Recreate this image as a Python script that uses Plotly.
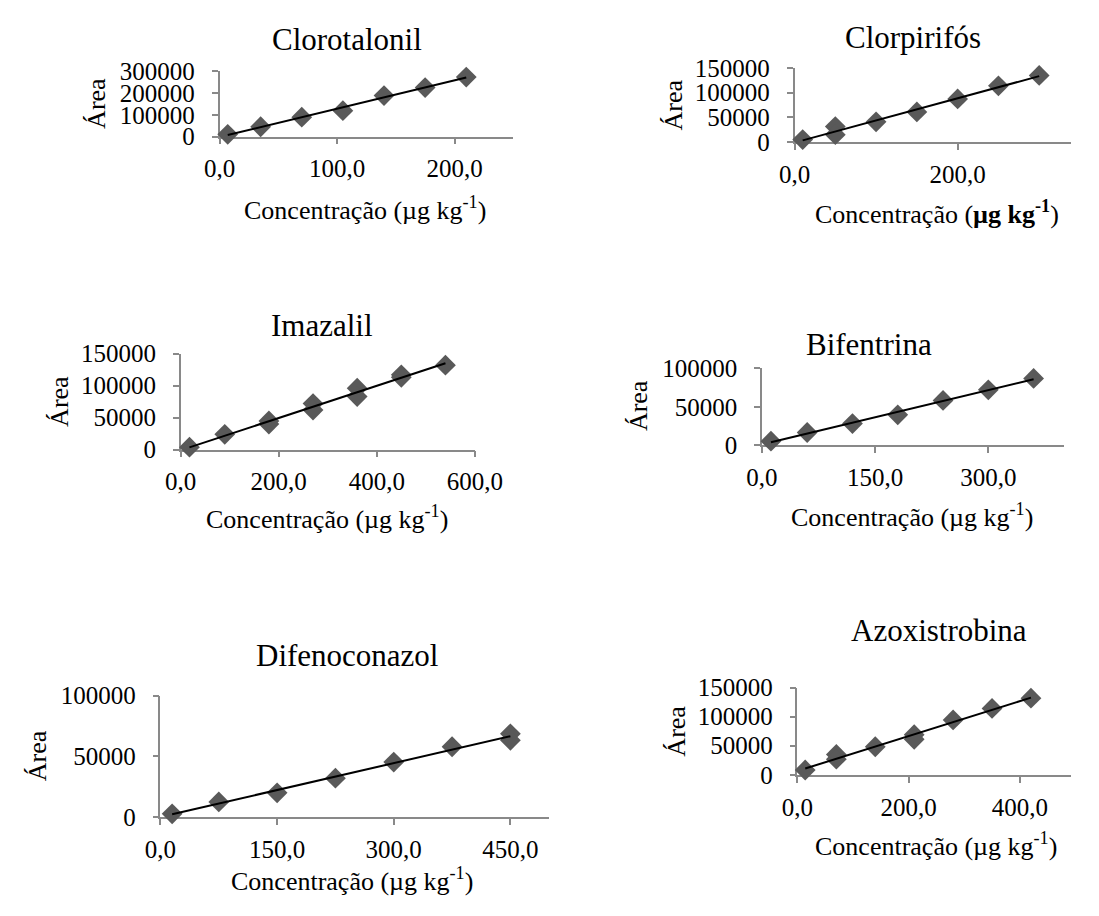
import numpy as np
import plotly.graph_objects as go

W, H = 1099, 916

# ---------------- data ----------------
names = ["Clorotalonil", "Clorpirifós", "Imazalil", "Bifentrina", "Difenoconazol", "Azoxistrobina"]

clorotalonil_x = [7, 35, 70, 105, 140, 175, 210]
clorotalonil_y = [10000, 45000, 89000, 119000, 188000, 225000, 273000]

clorpirifos_x = [10, 50, 50, 100, 150, 200, 250, 300]
clorpirifos_y = [5000, 31500, 15000, 41000, 61000, 87500, 114000, 135000]

imazalil_x = [18, 90, 180, 180, 270, 270, 360, 360, 450, 450, 540]
imazalil_y = [4000, 24000, 45000, 40000, 72000, 62000, 96000, 83000, 117000, 113000, 132000]

bifentrina_x = [12, 60, 120, 180, 240, 300, 360]
bifentrina_y = [5400, 16700, 28300, 39600, 58300, 72000, 86700]

difenoconazol_x = [15, 75, 150, 225, 300, 375, 450, 450]
difenoconazol_y = [2700, 12500, 20000, 32000, 45300, 57900, 68500, 63200]

azoxistrobina_x = [14, 70, 70, 140, 210, 210, 280, 350, 420]
azoxistrobina_y = [8300, 35000, 27000, 48300, 69000, 61000, 94400, 114000, 131700]

xs = [clorotalonil_x, clorpirifos_x, imazalil_x, bifentrina_x, difenoconazol_x, azoxistrobina_x]
ys = [clorotalonil_y, clorpirifos_y, imazalil_y, bifentrina_y, difenoconazol_y, azoxistrobina_y]

x_ticks = [[0, 100, 200], [0, 200], [0, 200, 400, 600], [0, 150, 300], [0, 150, 300, 450], [0, 200, 400]]
x_ticktext = [["0,0", "100,0", "200,0"], ["0,0", "200,0"], ["0,0", "200,0", "400,0", "600,0"],
              ["0,0", "150,0", "300,0"], ["0,0", "150,0", "300,0", "450,0"], ["0,0", "200,0", "400,0"]]
y_ticks = [[0, 100000, 200000, 300000], [0, 50000, 100000, 150000], [0, 50000, 100000, 150000],
           [0, 50000, 100000], [0, 50000, 100000], [0, 50000, 100000, 150000]]
x_max = [250, 339, 600, 400, 500, 492]
y_max = [300000, 150000, 150000, 100000, 100000, 150000]

x_titles = ["Concentração (µg kg<sup>-1</sup>)",
            "Concentração (<b>µg kg<sup>-1</sup></b>)",
            "Concentração (µg kg<sup>-1</sup>)",
            "Concentração (µg kg<sup>-1</sup>)",
            "Concentração (µg kg<sup>-1</sup>)",
            "Concentração (µg kg<sup>-1</sup>)"]
y_title = "Área"

# ---------------- layout (pixel positions) ----------------
# plot area: left px, right px, bottom px (y=0), top px (y=max)
areas = [(212, 518, 127.3, 60), (811, 1099, 133, 56.7), (171.5, 478, 450, 351),
         (777, 1091.5, 445.5, 366), (150.5, 555.5, 828.5, 703.3), (814, 1099, 785, 695)]
title_pos = [(345, 27), (934, 25), (318.5, 322), (888.6, 342), (344.75, 662), (962, 636)]
xtitle_pos = [(364, 201), (959.5, 206), (324, 520), (933, 518), (350, 893), (958.6, 856.7)]
ytitle_pos = [(84, 93), (684.75, 95), (45.5, 400), (648, 405), (22.75, 765), (688, 740)]

FONT = "Liberation Serif, Times New Roman, serif"
AXC = "#898989"
MARK = "#595959"

fig = go.Figure()
layout = dict(width=W, height=H, margin=dict(l=0, r=0, t=0, b=0),
              paper_bgcolor="white", plot_bgcolor="white", showlegend=False,
              font=dict(family=FONT, color="black"))
annotations = []

for i in range(6):
    k = i + 1
    xa = "x" if k == 1 else f"x{k}"
    ya = "y" if k == 1 else f"y{k}"
    xarr = np.array(xs[i], dtype=float)
    yarr = np.array(ys[i], dtype=float)
    # linear trendline (least squares) over the data span
    m, b = np.polyfit(xarr, yarr, 1)
    xl = np.array([xarr.min(), xarr.max()])
    fig.add_trace(go.Scatter(x=xarr, y=yarr, mode="markers", xaxis=xa, yaxis=ya,
                             marker=dict(symbol="diamond", size=16, color=MARK, line=dict(width=0)),
                             cliponaxis=False))
    fig.add_trace(go.Scatter(x=xl, y=m * xl + b, mode="lines", xaxis=xa, yaxis=ya,
                             line=dict(color="black", width=2), cliponaxis=False))
    l, r, bot, top = areas[i]
    xd = [l / W, r / W]
    yd = [1 - bot / H, 1 - top / H]
    common = dict(showgrid=False, zeroline=False, showline=True, linecolor=AXC, linewidth=1.5,
                  ticks="outside", ticklen=6, tickcolor=AXC, tickwidth=1.5,
                  tickfont=dict(family=FONT, size=25, color="black"), layer="below traces")
    layout["xaxis" if k == 1 else f"xaxis{k}"] = dict(
        domain=xd, range=[0, x_max[i]], anchor=ya, tickmode="array",
        tickvals=x_ticks[i], ticktext=x_ticktext[i], ticklabelstandoff=3, **common)
    layout["yaxis" if k == 1 else f"yaxis{k}"] = dict(
        domain=yd, range=[0, y_max[i]], anchor=xa, tickmode="array",
        tickvals=y_ticks[i], ticktext=[str(v) for v in y_ticks[i]], ticklabelstandoff=12, **common)

    tx, ty = title_pos[i]
    annotations.append(dict(text=names[i], x=tx / W, y=1 - ty / H, xref="paper", yref="paper",
                            showarrow=False, xanchor="center", yanchor="middle",
                            font=dict(family=FONT, size=31, color="black")))
    ax_, ay_ = xtitle_pos[i]
    annotations.append(dict(text=x_titles[i], x=ax_ / W, y=1 - ay_ / H, xref="paper", yref="paper",
                            showarrow=False, xanchor="center", yanchor="middle",
                            font=dict(family=FONT, size=26, color="black")))
    yx, yy = ytitle_pos[i]
    annotations.append(dict(text=y_title, x=yx / W, y=1 - yy / H, xref="paper", yref="paper",
                            showarrow=False, xanchor="center", yanchor="middle", textangle=-90,
                            font=dict(family=FONT, size=26, color="black")))

layout["annotations"] = annotations
fig.update_layout(**layout)
fig.write_html("out.html", post_script="document.body.style.margin='0';")
